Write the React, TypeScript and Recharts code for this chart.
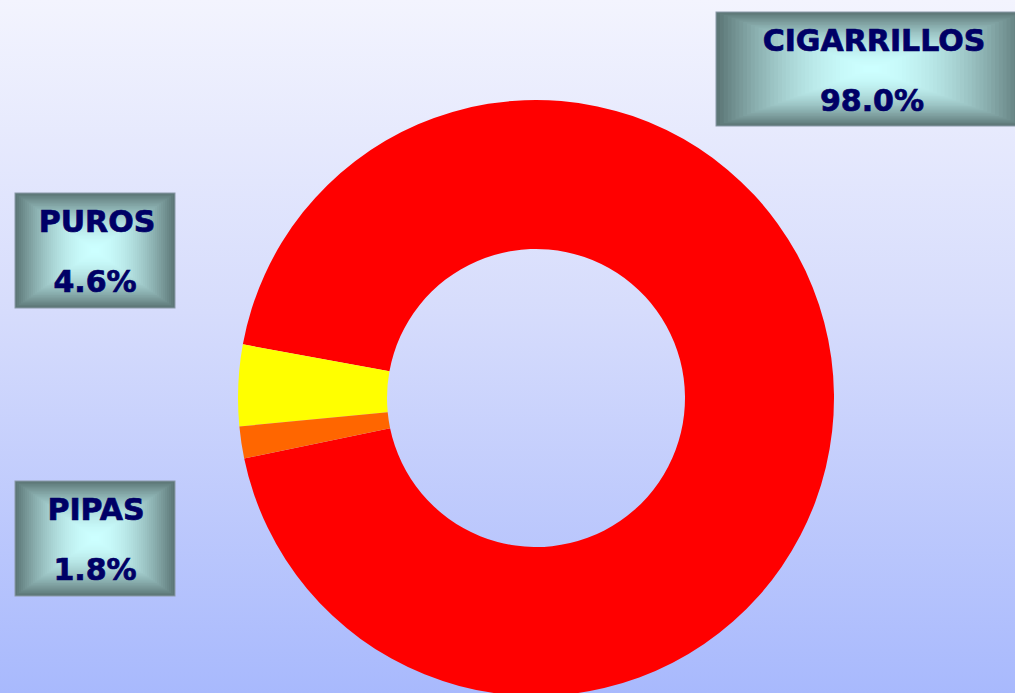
import React from "react";
import { PieChart, Pie, Cell } from "recharts";

const categories = ["CIGARRILLOS", "PUROS", "PIPAS"];
const shares = [98.0, 4.6, 1.8];
const percentLabels = ["98.0%", "4.6%", "1.8%"];
const sliceColors = ["#ff0000", "#ffff00", "#ff6600"];

const data = categories.map((name, i) => ({ name, value: shares[i], pct: percentLabels[i] }));

// label box layout
const boxes = [
  { x: 716, y: 12, w: 310, h: 114, nx: 874, px: 872 },
  { x: 15, y: 193, w: 160, h: 115, nx: 97, px: 95 },
  { x: 15, y: 481, w: 160, h: 115, nx: 96, px: 95 },
];

const EDGE = [92, 118, 118];
const CENTER = [204, 255, 255];
const STEPS = 40;

const shade = (t: number) => {
  const e = Math.pow(t, 1.9);
  const c = CENTER.map((cv, k) => Math.round(cv + (EDGE[k] - cv) * e));
  return `rgb(${c[0]},${c[1]},${c[2]})`;
};

const PathGradientBox = ({ x, y, w, h }: { x: number; y: number; w: number; h: number }) => {
  const cx = x + w / 2;
  const cy = y + h / 2;
  const rects = [];
  for (let s = STEPS; s >= 1; s--) {
    const t = s / STEPS;
    const rw = w * t;
    const rh = h * t;
    rects.push(
      <rect key={s} x={cx - rw / 2} y={cy - rh / 2} width={rw} height={rh} fill={shade(t)} stroke="none" />
    );
  }
  return (
    <g>
      {rects}
      <rect x={x} y={y} width={w} height={h} fill="none" stroke="#8a9aa8" strokeWidth={1} />
    </g>
  );
};

const textStyle = {
  fill: "#000066",
  stroke: "#000066",
  strokeWidth: 0.7,
  fontFamily: "'DejaVu Sans', Verdana, sans-serif",
  fontWeight: "bold" as const,
  fontSize: 30,
};

const renderLabel = (props: any) => {
  const i = props.index;
  const b = boxes[i];
  const d = data[i];
  return (
    <g key={`lab${i}`}>
      <PathGradientBox x={b.x} y={b.y} w={b.w} h={b.h} />
      <text x={b.nx} y={b.y + 39} textAnchor="middle" style={textStyle}>
        {d.name}
      </text>
      <text x={b.px} y={b.y + 99} textAnchor="middle" style={textStyle}>
        {d.pct}
      </text>
    </g>
  );
};

export default function App() {
  return (
    <div
      style={{
        position: "absolute",
        left: 0,
        top: 0,
        width: 1015,
        height: 693,
        background: "linear-gradient(to bottom, #f3f4fe 0%, #d6dcfc 45%, #a8b9fd 100%)",
        overflow: "hidden",
      }}
    >
      <PieChart width={1015} height={693} margin={{ top: 0, right: 0, bottom: 0, left: 0 }}>
        <Pie
          data={data}
          dataKey="value"
          nameKey="name"
          cx={536}
          cy={398}
          innerRadius={149}
          outerRadius={298}
          startAngle={191.7}
          endAngle={551.7}
          stroke="none"
          label={renderLabel}
          labelLine={false}
          isAnimationActive={false}
        >
          {data.map((_, i) => (
            <Cell key={i} fill={sliceColors[i]} />
          ))}
        </Pie>
      </PieChart>
    </div>
  );
}
